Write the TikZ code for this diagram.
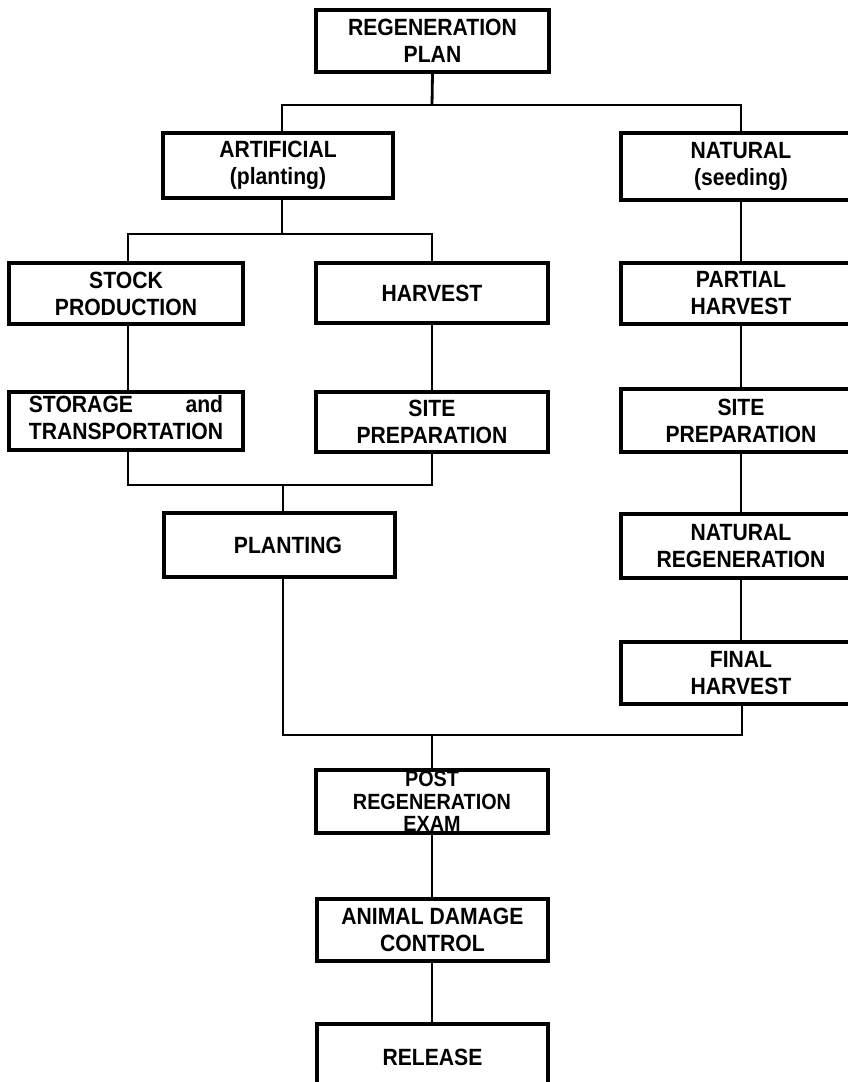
\documentclass[tikz,border=0pt]{standalone}
\usepackage{fontspec}
\setmainfont[FakeStretch=0.9]{Liberation Sans}
\begin{document}
\begin{tikzpicture}[x=1pt,y=-1pt,
  box/.style={draw, line width=3.2pt, inner sep=0pt, align=center,
    font=\bfseries\fontsize{23.5}{27}\selectfont},
  link/.style={line width=2.8pt}]
\useasboundingbox (0,0) rectangle (848,1082);
\clip (0,0) rectangle (848,1082);
% boxes
\node[box, minimum width=233, minimum height=62] (plan) at (432.5,41) {REGENERATION\\PLAN};
\node[box, minimum width=230, minimum height=65] (art) at (278,165.5) {ARTIFICIAL\\(planting)};
\node[box, minimum width=240, minimum height=67] (nat) at (741,166.5) {NATURAL\\(seeding)};
\node[box, minimum width=234, minimum height=61] (stock) at (126,293.5) {STOCK\\PRODUCTION};
\node[box, minimum width=232, minimum height=60] (harv) at (432,293) {HARVEST};
\node[box, minimum width=240, minimum height=61] (part) at (741,293.5) {PARTIAL\\HARVEST};
\node[box, minimum width=234, minimum height=58] (stor) at (126,421)
  {\begin{tabular}{@{}l@{}}STORAGE\hfill and\\TRANSPORTATION\end{tabular}};
\node[box, minimum width=232, minimum height=60] (site1) at (432,422) {SITE\\PREPARATION};
\node[box, minimum width=240, minimum height=63] (site2) at (741,420.5) {SITE\\PREPARATION};
\node[box, minimum width=231, minimum height=64] (plant) at (279.5,545) {\hspace*{17pt}PLANTING};
\node[box, minimum width=240, minimum height=64] (natreg) at (741,546) {NATURAL\\REGENERATION};
\node[box, minimum width=240, minimum height=62] (final) at (741,673) {FINAL\\HARVEST};
\node[box, minimum width=232, minimum height=63, font=\bfseries\fontsize{22}{22.5}\selectfont] (post) at (432,801.5) {POST\\REGENERATION\\EXAM};
\node[box, minimum width=231, minimum height=62] (animal) at (432.5,930) {ANIMAL DAMAGE\\CONTROL};
\node[box, minimum width=231, minimum height=66] (release) at (432.5,1057) {RELEASE};
% junctions
\coordinate (j1) at (432,105);
\coordinate (jl) at (282,105);
\coordinate (jr) at (741,105);
\coordinate (j2) at (282,234);
\coordinate (j2l) at (128,234);
\coordinate (j2r) at (432,234);
\coordinate (j3) at (283,485);
\coordinate (j3l) at (128,485);
\coordinate (j3r) at (432,485);
\coordinate (j4l) at (283,735);
\coordinate (j4) at (432,735);
\coordinate (j4r) at (742,735);
% connectors
\draw[link] (plan.south) -- (j1);
\draw[link] (art.north -| jl) -- (jl) -- (jr) -- (nat.north -| jr);
\draw[link] (art.south -| j2) -- (j2);
\draw[link] (stock.north -| j2l) -- (j2l) -- (j2r) -- (harv.north -| j2r);
\draw[link] (stock.south -| j2l) -- (stor.north -| j2l);
\draw[link] (harv.south -| j2r) -- (site1.north -| j2r);
\draw[link] (stor.south -| j3l) -- (j3l) -- (j3r) -- (site1.south -| j3r);
\draw[link] (j3) -- (plant.north -| j3);
\draw[link] (nat.south) -- (part.north);
\draw[link] (part.south) -- (site2.north);
\draw[link] (site2.south) -- (natreg.north);
\draw[link] (natreg.south) -- (final.north);
\draw[link] (plant.south -| j4l) -- (j4l) -- (j4r) -- (final.south -| j4r);
\draw[link] (j4) -- (post.north -| j4);
\draw[link] (post.south -| j4) -- (animal.north -| j4);
\draw[link] (animal.south -| j4) -- (release.north -| j4);
\end{tikzpicture}
\end{document}
